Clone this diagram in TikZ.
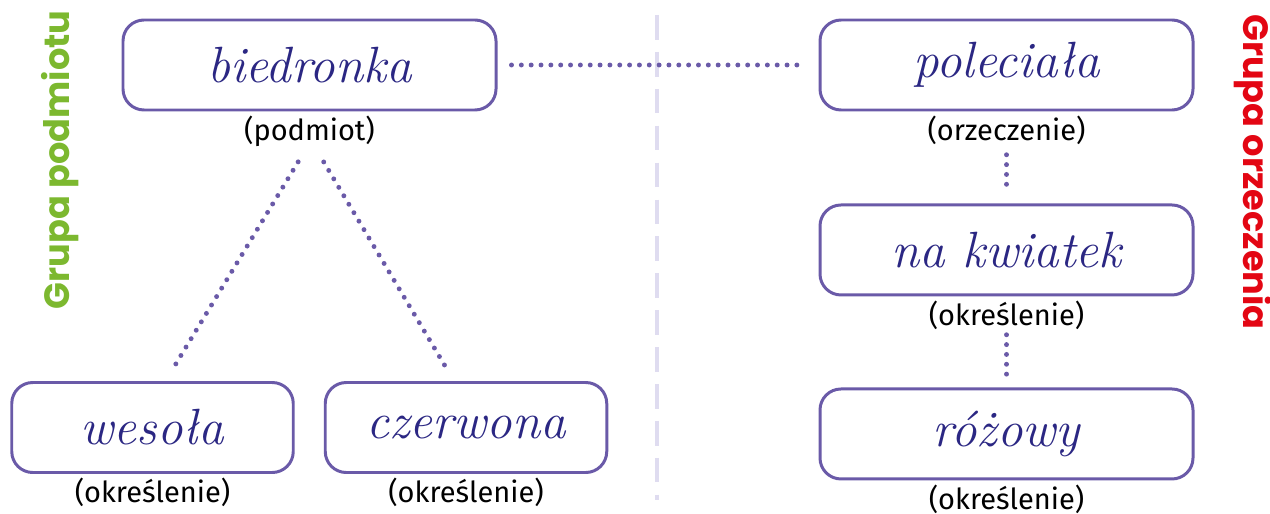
\documentclass[tikz,border=0pt]{standalone}
\usepackage{fontspec}
\setsansfont{Fira Sans}
\newfontfamily\grpfont{Poppins}[BoldFont={* Bold}]
\usetikzlibrary{positioning,calc}

\definecolor{ramka}{HTML}{6A5AA8}
\definecolor{granat}{HTML}{2B2783}
\definecolor{zielony}{HTML}{7CB82F}
\definecolor{czerwony}{HTML}{E30613}
\definecolor{linia}{HTML}{DFDCF0}

\begin{document}
\begin{tikzpicture}[
                node distance=0.3cm,
                slowo/.style={draw=ramka, line width=1.7pt, rounded corners=0.42cm,
                              minimum width=7.46cm, minimum height=1.8cm,
                              font=\fontsize{29}{34}\selectfont\itshape, text=granat},
                maly/.style={slowo, minimum width=5.63cm},
                opis/.style={inner sep=0pt, text height=0.75em, text depth=0.25em,
                             font=\sffamily\fontsize{16.5}{20}\selectfont},
                kropki/.style={ramka, line width=2.8pt, line cap=round,
                               dash pattern=on 0pt off 5.6pt},
                grupa/.style={font=\grpfont\bfseries\fontsize{20}{24}\selectfont}
            ]
                \useasboundingbox (0,0) rectangle (25.4,-10.28);
                % separator
                \draw[linia, line width=1.8pt, dash pattern=on 14pt off 7pt] (13.14,-0.3) -- (13.14,-10.0);
                % grupa podmiotu
                \node[slowo] (bied) at (6.19,-1.3) {biedronka};
                \node[opis, below=of bied] (pod) {(podmiot)};
                \node[maly] (wes) at (3.05,-8.55) {wesoła};
                \node[opis, below=of wes] (okr1) {(określenie)};
                \node[maly] (czer) at (9.32,-8.55) {czerwona};
                \node[opis, below=of czer] (okr2) {(określenie)};
                % grupa orzeczenia
                \node[slowo] (pol) at (20.13,-1.3) {poleciała};
                \node[opis, below=of pol] (orz) {(orzeczenie)};
                \node[slowo, below=1.84cm of pol] (kwi) {na kwiatek};
                \node[opis, below=of kwi] (okr3) {(określenie)};
                \node[slowo, below=1.82cm of kwi] (roz) {różowy};
                \node[opis, below=of roz] (okr4) {(określenie)};
                % podpisy grup
                \node[grupa, text=zielony, rotate=90] (gp) at (1.2,-3.2) {Grupa podmiotu};
                \node[grupa, text=czerwony, rotate=-90] (go) at (25.06,-3.44) {Grupa orzeczenia};
                % kropki
                \draw[kropki, shorten <=0.28cm, shorten >=0.24cm] (bied) -- (pol);
                \draw[kropki, shorten <=0.2cm, shorten >=0.24cm] (orz) -- (kwi);
                \draw[kropki, shorten <=0.1cm, shorten >=0.22cm] (okr3) -- (roz);
                \draw[kropki, shorten <=0.4cm, shorten >=0.35cm] ([xshift=-0.02cm]pod.south) -- ([xshift=0.26cm]wes.north);
                \draw[kropki, shorten <=0.4cm, shorten >=0.35cm] ([xshift=0.08cm]pod.south) -- ([xshift=-0.24cm]czer.north);
            \end{tikzpicture}
\end{document}
